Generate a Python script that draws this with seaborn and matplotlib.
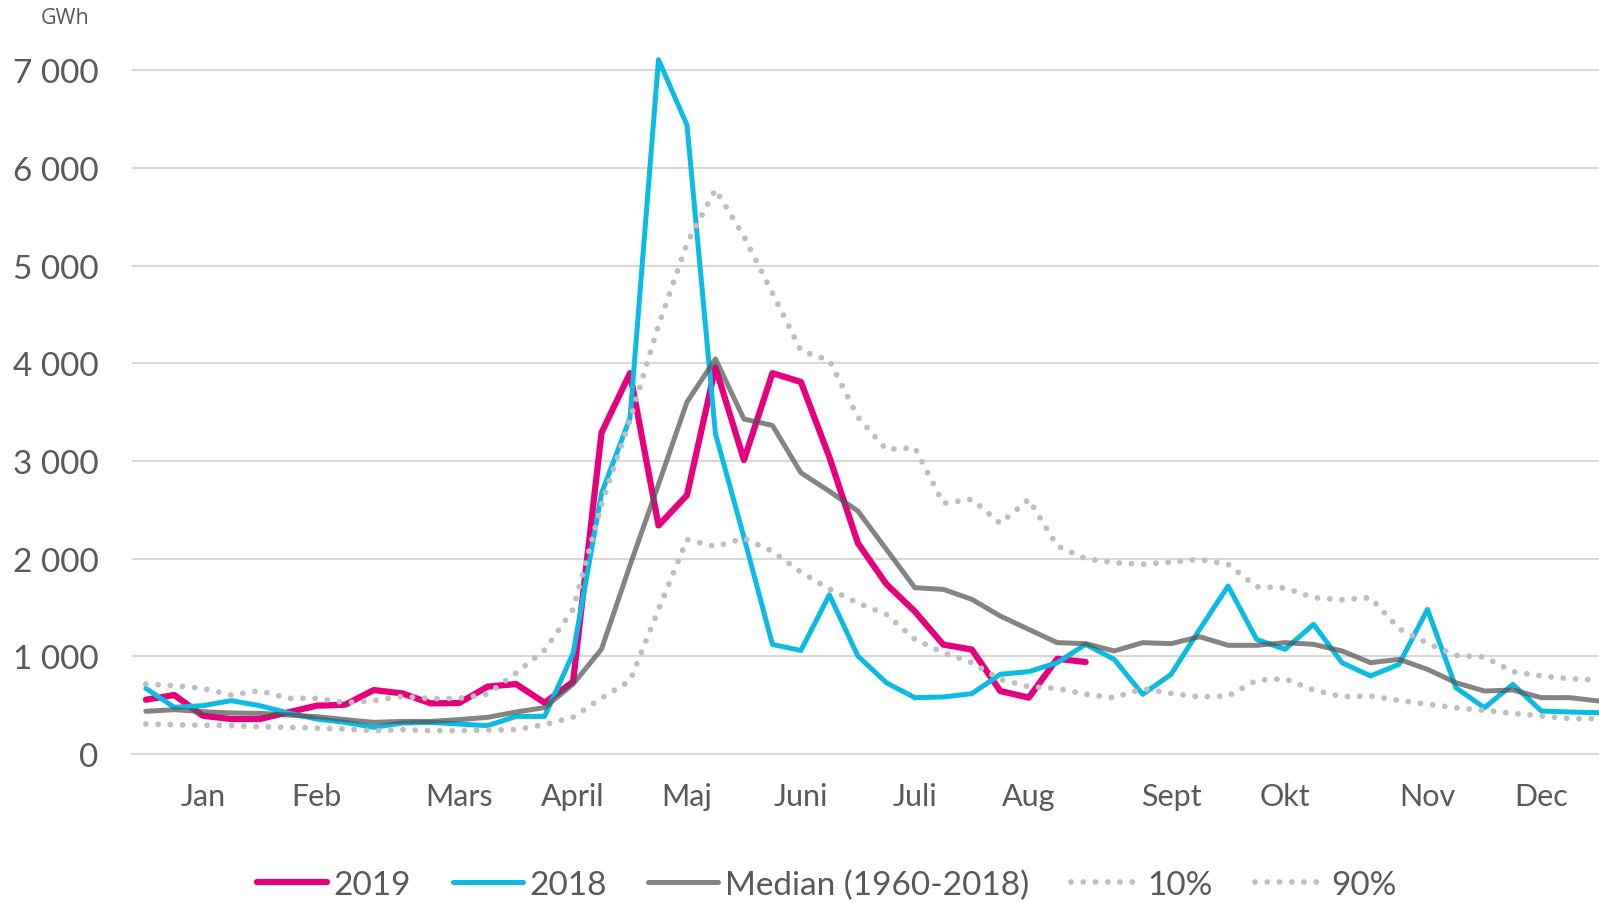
import numpy as np
import pandas as pd
import seaborn as sns
import matplotlib.pyplot as plt

# weekly inflow, GWh (week 1..52)
weeks = list(range(52))

inflow_2019 = [556, 604, 392, 358, 358, 427, 495, 505, 655, 621, 519, 522, 690, 716,
               525, 740, 3290, 3900, 2340, 2650, 3960, 3010, 3900, 3810, 3040, 2160,
               1740, 1460, 1120, 1070, 645, 577, 975, 942]

inflow_2018 = [672, 478, 495, 546, 495, 420, 358, 324, 273, 317, 324, 307, 290, 385,
               385, 1030, 2670, 3440, 7110, 6440, 3280, 2220, 1122, 1060, 1630, 1003,
               730, 577, 584, 618, 816, 843, 935, 1123, 969, 611, 816, 1276, 1720, 1174,
               1072, 1328, 935, 799, 918, 1481, 679, 474, 713, 440, 430, 423]

median = [437, 454, 433, 420, 416, 399, 382, 352, 324, 334, 334, 352, 375, 430,
          475, 716, 1074, 1933, 2760, 3604, 4045, 3430, 3365, 2880, 2690, 2488,
          2096, 1703, 1686, 1584, 1413, 1276, 1140, 1130, 1055, 1140, 1130, 1201,
          1113, 1113, 1140, 1123, 1055, 935, 969, 867, 730, 645, 655, 577, 577, 543]

p10 = [307, 300, 295, 290, 280, 273, 265, 256, 239, 249, 239, 239, 245, 250,
       301, 377, 573, 749, 1480, 2196, 2124, 2210, 2076, 1862, 1690, 1545,
       1430, 1174, 1038, 935, 765, 689, 672, 611, 577, 669, 621, 584, 594, 754,
       771, 655, 587, 594, 549, 509, 474, 447, 416, 389, 362, 362]

p90 = [717, 700, 672, 604, 648, 570, 570, 526, 546, 590, 567, 570, 615, 830,
       1064, 1480, 2554, 3422, 4391, 5227, 5780, 5300, 4720, 4130, 4030, 3450,
       3119, 3137, 2567, 2608, 2362, 2608, 2130, 2000, 1959, 1942, 1966, 1993,
       1942, 1713, 1700, 1601, 1580, 1601, 1283, 1133, 1010, 993, 843, 799, 771, 758]

month_weeks = [2, 6, 11, 15, 19, 23, 27, 31, 36, 40, 45, 49]
month_labels = ["Jan", "Feb", "Mars", "April", "Maj", "Juni", "Juli", "Aug",
                "Sept", "Okt", "Nov", "Dec"]

y_ticks = [0, 1000, 2000, 3000, 4000, 5000, 6000, 7000]

sns.set_style("white")
plt.rcParams['font.family'] = ['Lato', 'DejaVu Sans']

text_col = "#595959"

fig = plt.figure(figsize=(15.99, 9.03), dpi=100)
ax = fig.add_axes([0.0823, 0.1639, 0.9262, 0.8003])

# Series in Excel order (later ones are drawn on top)
sns.lineplot(x=weeks[:len(inflow_2019)], y=inflow_2019, ax=ax, color="#E6007E",
             linewidth=4.5, label="2019", solid_joinstyle="round",
             solid_capstyle="round")
sns.lineplot(x=weeks, y=inflow_2018, ax=ax, color="#0BBBE4", linewidth=3.6,
             label="2018", solid_joinstyle="round")
sns.lineplot(x=weeks, y=median, ax=ax, color="#555555", alpha=0.72, linewidth=3.6,
             label="Median (1960-2018)", solid_joinstyle="round")
for vals, lab in [(p10, "10%"), (p90, "90%")]:
    sns.lineplot(x=weeks, y=vals, ax=ax, color="#BFBFBF", linewidth=4.2,
                 linestyle=(0, (0.001, 2.1)), dash_capstyle="round", label=lab)

ax.set_xlim(-0.5, 51.5)
ax.set_ylim(0, 7400)

ax.set_yticks(y_ticks)
ax.set_yticklabels([f"{v:,}".replace(",", " ") for v in y_ticks])
ax.set_xticks(month_weeks)
ax.set_xticklabels(month_labels)

ax.grid(axis="y", color="#D9D9D9", linewidth=1.5)
ax.grid(axis="x", visible=False)
ax.set_axisbelow(True)
for s in ["top", "right", "left"]:
    ax.spines[s].set_visible(False)
ax.spines["bottom"].set_color("#D9D9D9")
ax.spines["bottom"].set_linewidth(1.5)

ax.tick_params(axis="y", length=0, pad=24, labelsize=24, labelcolor=text_col)
ax.tick_params(axis="x", length=0, pad=20, labelsize=22, labelcolor=text_col)
ax.set_xlabel("")
ax.set_ylabel("")

fig.text(65 / 1599, 1 - 19 / 903, "GWh", ha="center", va="center",
         fontsize=15.5, color=text_col, family=["Open Sans", "DejaVu Sans"])

handles, labels = ax.get_legend_handles_labels()
ax.get_legend().remove()
fig.legend(handles, labels, loc="center", bbox_to_anchor=(0.517, 0.019), ncol=5,
           frameon=False, fontsize=24, labelcolor=text_col, handlelength=2.1,
           handletextpad=0.2, columnspacing=1.25)

plt.savefig("out.png", dpi=100)
plt.close()
